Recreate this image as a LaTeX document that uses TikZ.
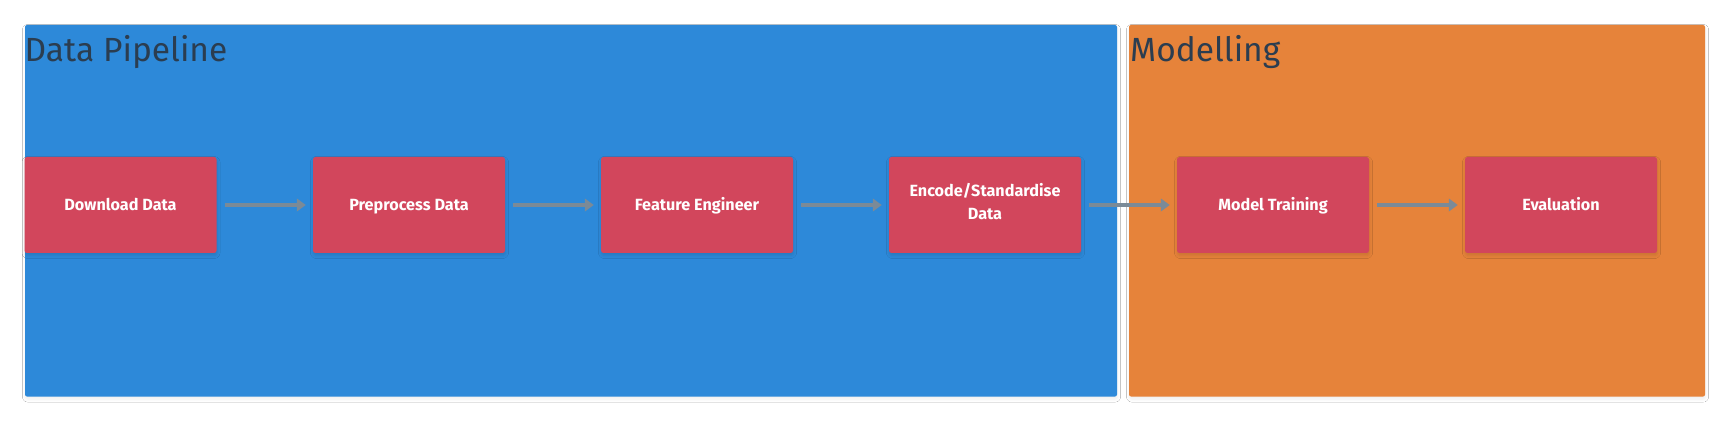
\documentclass[tikz,border=0pt]{standalone}
\usepackage{fontspec}
\setmainfont{Fira Sans}
\newfontfamily\titlefont{Fira Sans}
\usetikzlibrary{arrows.meta,shadows.blur}
\definecolor{pipeblue}{HTML}{2D89D9}
\definecolor{modorange}{HTML}{E6833A}
\definecolor{stepred}{HTML}{D2465C}
\definecolor{titlecol}{HTML}{2B3D50}
\definecolor{conncol}{HTML}{7B8A97}
\tikzset{
  groupbox/.style={fill=#1, rounded corners=2pt, blur shadow={shadow xshift=0.5pt, shadow yshift=-2.5pt, shadow blur steps=6, shadow blur radius=3pt, shadow opacity=7}},
  grouptitle/.style={anchor=base west, text=titlecol, font=\titlefont\fontsize{33.5}{38}\selectfont, inner sep=0pt},
  stepbox/.style={fill=stepred, rounded corners=2.5pt, minimum width=192pt, minimum height=96pt, text=white, align=center, inner sep=0pt, font=\bfseries\fontsize{16.2}{23.5}\selectfont, execute at begin node={\rule{0pt}{18.5pt}}, execute at end node={\rule[-7pt]{0pt}{0pt}}, blur shadow={shadow xshift=0.5pt, shadow yshift=-2.5pt, shadow blur steps=5, shadow blur radius=3pt, shadow opacity=12}},
  conn/.style={draw=conncol, line width=3.3pt, -{Triangle[length=9pt,width=12.5pt]}, shorten <=8pt, shorten >=7pt}
}
\begin{document}
\begin{tikzpicture}[x=1pt,y=-1pt]
\useasboundingbox (0,0) rectangle (1730,422);
\fill[white] (0,0) rectangle (1730,422);
\path[groupbox=pipeblue] (25,25) rectangle (1117,396.5);
\path[groupbox=modorange] (1129,25) rectangle (1705,396.5);
\node[grouptitle] (t1) at (24.5,61.5) {Data Pipeline};
\node[grouptitle] (t2) at (1130,61.5) {Modelling};
\node[stepbox] (n1) at (120.5,205) {Download Data};
\node[stepbox] (n2) at (409,205) {Preprocess Data};
\node[stepbox] (n3) at (697,205) {Feature Engineer};
\node[stepbox] (n4) at (985,205) {Encode/Standardise\\Data};
\node[stepbox] (n5) at (1273,205) {Model Training};
\node[stepbox] (n6) at (1561,205) {Evaluation};
\draw[conn] (n1) -- (n2);
\draw[conn] (n2) -- (n3);
\draw[conn] (n3) -- (n4);
\draw[conn] (n4) -- (n5);
\draw[conn] (n5) -- (n6);
\end{tikzpicture}
\end{document}
